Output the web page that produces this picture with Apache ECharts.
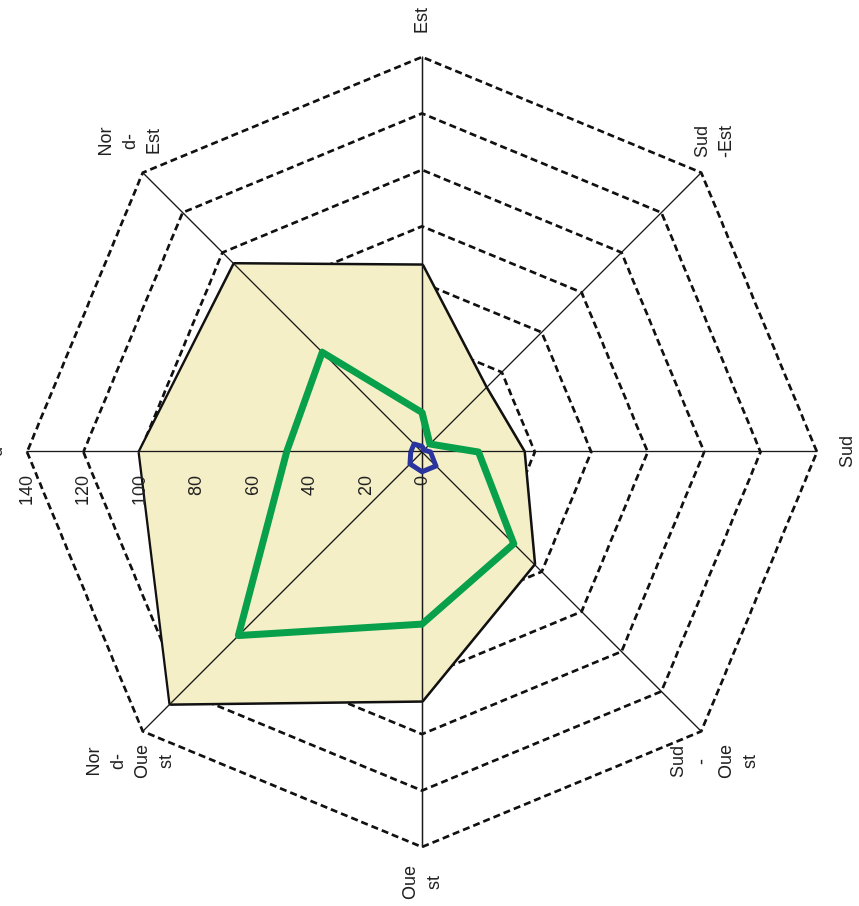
<!DOCTYPE html>
<html>
<head>
<meta charset="utf-8">
<script src="https://cdn.jsdelivr.net/npm/echarts@6/dist/echarts.min.js"></script>
<style>
  html, body { margin: 0; padding: 0; background: #fff; overflow: hidden; }
  /* the scanned chart is turned a quarter to the left, so draw it upright and turn it */
  #chart {
    position: absolute; left: 0; top: 0;
    width: 906px; height: 859px;
    transform-origin: 0 0;
    transform: translateY(906px) rotate(-90deg);
  }
</style>
</head>
<body>
<div id="chart"></div>
<script>
  // directions, counter-clockwise from the top (Nord)
  let directions = ['Nor\nd', 'Nor\nd-\nOue\nst', 'Oue\nst', 'Sud\n-\nOue\nst', 'Sud', 'Sud\n-Est', 'Est', 'Nor\nd-\nEst'];
  let ticks = [0, 20, 40, 60, 80, 100, 120, 140];
  let total = [100, 126, 88, 56, 36, 32, 66, 94];
  let greenSerie = [48, 92, 61, 46, 20, 4, 14, 50];
  let blueSerie = [4, 6, 7, 7, 3, 1, 2, 4];

  let maxValue = ticks[ticks.length - 1];
  let font = 'Liberation Sans, Arial, sans-serif';

  let chart = echarts.init(document.getElementById('chart'));

  let indicators = directions.map(function (name) {
    return { name: name, min: 0, max: maxValue };
  });
  let overlayIndicators = directions.map(function (name, i) {
    let ind = { name: name, min: 0, max: maxValue };
    if (i === 0) {
      ind.axisLabel = { show: true };
    }
    return ind;
  });

  chart.setOption({
    animation: false,
    radar: [
      {
        center: [454, 422],
        radius: 395,
        startAngle: 90,
        splitNumber: ticks.length - 1,
        shape: 'polygon',
        z: 0,
        indicator: indicators,
        axisName: {
          color: '#222',
          fontFamily: font,
          fontSize: 18,
          lineHeight: 24,
          // each wrapped line centred in its own box, like the original
          formatter: function (name) {
            return name.split('\n').map(function (l) { return '{c|' + l + '}'; }).join('\n');
          },
          rich: {
            c: {
              width: 36,
              align: 'center',
              color: '#222',
              fontFamily: font,
              fontSize: 18,
              lineHeight: 24
            }
          }
        },
        nameGap: 18,
        axisLine: { show: false },
        axisTick: { show: false },
        axisLabel: { show: false },
        splitArea: { show: false },
        splitLine: {
          lineStyle: { color: '#111', width: 2.7, type: [7, 4] }
        }
      },
      {
        center: [454, 422],
        radius: 395,
        startAngle: 90,
        splitNumber: ticks.length - 1,
        shape: 'polygon',
        z: 2,
        indicator: overlayIndicators,
        axisName: { show: false },
        axisLine: { lineStyle: { color: '#1a1a1a', width: 1.3 } },
        axisTick: { show: false },
        axisLabel: {
          show: false,
          color: '#222',
          fontFamily: font,
          fontSize: 18,
          margin: 24
        },
        splitArea: { show: false },
        splitLine: { show: false }
      }
    ],
    series: [
      {
        type: 'radar',
        radarIndex: 0,
        z: 1,
        symbol: 'none',
        lineStyle: { color: '#111', width: 5 },
        areaStyle: { color: '#f5efc8', opacity: 1 },
        data: [{ value: total }]
      },
      {
        type: 'radar',
        radarIndex: 1,
        z: 3,
        symbol: 'none',
        data: [
          { value: greenSerie, lineStyle: { color: '#08a04a', width: 7 } },
          { value: blueSerie, lineStyle: { color: '#2a349e', width: 5 } }
        ]
      }
    ]
  });
</script>
</body>
</html>
